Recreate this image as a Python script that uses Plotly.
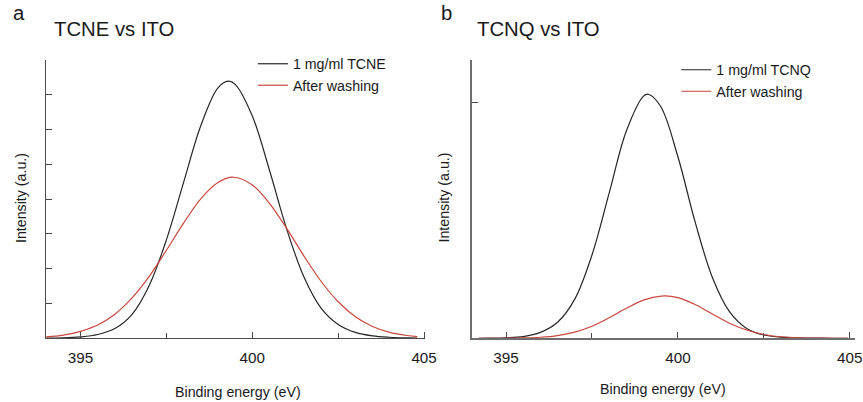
import plotly.graph_objects as go

# ---------------- data ----------------
# Panel a: TCNE vs ITO
tcne_x = [394.0, 394.5, 395.0, 395.5, 396.0, 396.5, 397.0, 397.5, 398.0, 398.5, 399.0, 399.3,
          399.5, 400.0, 400.5, 401.0, 401.5, 402.0, 402.5, 403.0, 403.5, 404.0, 404.5, 404.8]
tcne_y = [0.005, 0.012, 0.04, 0.11, 0.28, 0.69, 1.52, 2.83, 4.48, 6.11, 7.20, 7.39,
          7.30, 6.39, 4.83, 3.14, 1.77, 0.87, 0.40, 0.17, 0.07, 0.03, 0.012, 0.006]
tcne_wash_x = [394.0, 394.5, 395.0, 395.5, 396.0, 396.5, 397.0, 397.5, 398.0, 398.5, 399.0, 399.45,
               400.0, 400.5, 401.0, 401.5, 402.0, 402.5, 403.0, 403.5, 404.0, 404.5, 404.8]
tcne_wash_y = [0.04, 0.09, 0.20, 0.38, 0.69, 1.16, 1.78, 2.53, 3.31, 4.01, 4.48, 4.63,
               4.41, 3.88, 3.16, 2.37, 1.64, 1.05, 0.62, 0.34, 0.17, 0.08, 0.05]

# Panel b: TCNQ vs ITO
tcnq_x = [394.2, 394.5, 395.0, 395.5, 396.0, 396.5, 397.0, 397.5, 398.0, 398.5, 399.0, 399.14,
          399.5, 400.0, 400.5, 401.0, 401.5, 402.0, 402.5, 403.0, 403.5, 404.0, 404.5, 404.95]
tcnq_y = [0.0, 0.0005, 0.002, 0.007, 0.025, 0.068, 0.166, 0.353, 0.615, 0.878, 1.026, 1.034,
          0.982, 0.769, 0.493, 0.259, 0.113, 0.042, 0.014, 0.005, 0.002, 0.001, 0.0, 0.0]
tcnq_wash_x = [394.2, 394.5, 395.0, 395.5, 396.0, 396.5, 397.0, 397.5, 398.0, 398.5, 399.0, 399.6,
               400.0, 400.5, 401.0, 401.5, 402.0, 402.5, 403.0, 403.5, 404.0, 404.5, 404.95]
tcnq_wash_y = [0.0, 0.0001, 0.0004, 0.0015, 0.0044, 0.0115, 0.026, 0.051, 0.087, 0.127, 0.162, 0.180,
               0.172, 0.143, 0.103, 0.064, 0.035, 0.016, 0.0066, 0.0023, 0.0007, 0.0002, 0.0]

x_ticks = [395, 400, 405]
x_tick_labels = ["395", "400", "405"]

# ---------------- styling ----------------
REF_W, REF_H = 863, 402      # reference picture size (positions below are read in these pixels)
FIG_W, FIG_H = 877, 402      # page is captured slightly wider than the window, so fill it
FS = FIG_W / REF_W           # font compensation for the horizontal fit
FONT = "Liberation Sans, Arial, Helvetica, sans-serif"
BLACK = "#262626"
RED = "#c9473d"
TXT = "#1a1a1a"


def px_x(p):
    return p / REF_W


def px_y(p):
    return (REF_H - p) / REF_H


fig = go.Figure()
fig.add_trace(go.Scatter(x=tcne_x, y=tcne_y, mode="lines", name="1 mg/ml TCNE",
                         line=dict(color=BLACK, width=1.2, shape="spline"),
                         xaxis="x", yaxis="y", legend="legend"))
fig.add_trace(go.Scatter(x=tcne_wash_x, y=tcne_wash_y, mode="lines", name="After washing",
                         line=dict(color=RED, width=1.2, shape="spline"),
                         xaxis="x", yaxis="y", legend="legend"))
fig.add_trace(go.Scatter(x=tcnq_x, y=tcnq_y, mode="lines", name="1 mg/ml TCNQ",
                         line=dict(color=BLACK, width=1.2, shape="spline"),
                         xaxis="x2", yaxis="y2", legend="legend2"))
fig.add_trace(go.Scatter(x=tcnq_wash_x, y=tcnq_wash_y, mode="lines", name="After washing",
                         line=dict(color=RED, width=1.2, shape="spline"),
                         xaxis="x2", yaxis="y2", legend="legend2"))

y_dom = [px_y(338.3), px_y(60)]
common_x = dict(showgrid=False, zeroline=False, showline=True, ticks="inside",
                tickvals=x_ticks, ticktext=x_tick_labels, ticklen=6, tickwidth=1.2,
                tickfont=dict(family=FONT, size=15 * FS, color=TXT), ticklabelstandoff=5,
                minor=dict(ticks="inside", dtick=2.5, tick0=395, ticklen=5, tickwidth=1.2,
                           showgrid=False),
                fixedrange=True)

fig.update_layout(
    width=FIG_W, height=FIG_H,
    margin=dict(l=0, r=0, t=0, b=0),
    paper_bgcolor="white", plot_bgcolor="white",
    font=dict(family=FONT, color=TXT),
    xaxis=dict(domain=[px_x(46), px_x(424)], range=[394.0, 405.04], anchor="y",
               linecolor="#4a4a4a", linewidth=1.3, tickcolor="#4a4a4a", **common_x),
    yaxis=dict(domain=y_dom, range=[0, 8], anchor="x", showgrid=False, zeroline=False,
               showline=True, linecolor="#4a4a4a", linewidth=1.3, ticks="inside",
               dtick=1, tick0=0, ticklen=6, tickwidth=1.2, tickcolor="#4a4a4a",
               showticklabels=False, fixedrange=True),
    xaxis2=dict(domain=[px_x(470), px_x(852)], range=[394.0, 405.15], anchor="y2",
                linecolor="#6e6e6e", linewidth=1.8, tickcolor="#4a4a4a", **common_x),
    yaxis2=dict(domain=y_dom, range=[0, 1.179], anchor="x2", showgrid=False, zeroline=False,
                showline=True, linecolor="#6e6e6e", linewidth=1.8, ticks="inside",
                tickvals=[1.0], ticklen=6, tickwidth=1.2, tickcolor="#4a4a4a",
                showticklabels=False, fixedrange=True),
    legend=dict(x=px_x(252), y=px_y(48), xanchor="left", yanchor="top",
                bgcolor="rgba(0,0,0,0)", borderwidth=0,
                font=dict(family=FONT, size=14 * FS, color=TXT), tracegroupgap=0),
    legend2=dict(x=px_x(674), y=px_y(54), xanchor="left", yanchor="top",
                 bgcolor="rgba(0,0,0,0)", borderwidth=0,
                 font=dict(family=FONT, size=14 * FS, color=TXT), tracegroupgap=0),
    showlegend=True,
)

annotations = [
    dict(text="a", x=px_x(11), y=px_y(26), xanchor="left", yanchor="bottom", font=dict(size=20 * FS)),
    dict(text="TCNE vs ITO", x=px_x(52), y=px_y(42), xanchor="left", yanchor="bottom",
         font=dict(size=20 * FS)),
    dict(text="b", x=px_x(437), y=px_y(26), xanchor="left", yanchor="bottom", font=dict(size=20 * FS)),
    dict(text="TCNQ vs ITO", x=px_x(473), y=px_y(42), xanchor="left", yanchor="bottom",
         font=dict(size=20 * FS)),
    dict(text="Binding energy (eV)", x=px_x(237), y=px_y(391.5), xanchor="center", yanchor="middle",
         font=dict(size=14 * FS)),
    dict(text="Binding energy (eV)", x=px_x(660.5), y=px_y(388.5), xanchor="center", yanchor="middle",
         font=dict(size=14 * FS)),
    dict(text="Intensity (a.u.)", x=px_x(21), y=px_y(198), xanchor="center", yanchor="middle",
         textangle=-90, font=dict(size=14 * FS)),
    dict(text="Intensity (a.u.)", x=px_x(442), y=px_y(198), xanchor="center", yanchor="middle",
         textangle=-90, font=dict(size=14 * FS)),
]
for a in annotations:
    a.update(xref="paper", yref="paper", showarrow=False)
    a["font"].update(family=FONT, color=TXT)
fig.update_layout(annotations=annotations)

fig.write_html(
    "out.html",
    config={"displayModeBar": False},
    post_script=("document.documentElement.style.overflow='hidden';"
                 "document.body.style.margin='0';"
                 "document.body.style.overflow='hidden';"),
)
